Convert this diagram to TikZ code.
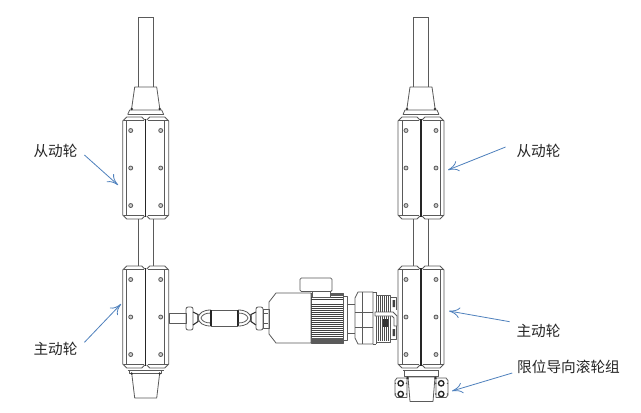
\documentclass[tikz,border=0pt]{standalone}
\usepackage{fontspec}
\setmainfont{Noto Sans CJK SC}
\usetikzlibrary{arrows.meta}
\definecolor{ink}{HTML}{5A5A5A}
\definecolor{callout}{HTML}{4F81BD}
\tikzset{
 x=0.75pt,y=-0.75pt,
 mech/.style={draw=ink,line width=0.6pt,line join=round},
 thin mech/.style={draw=ink,line width=0.35pt},
 heavy/.style={draw=black!85,line width=0.8pt},
 bolt/.style={draw=ink,fill=ink!30,line width=0.6pt},
 ring/.style={draw=black!85,fill=white,line width=1pt},
 lbl/.style={font=\fontsize{11}{13}\selectfont,text=black!85,inner sep=2pt},
 callarrow/.style={draw=callout,line width=0.6pt,-{To[length=8pt,width=8pt]}},
 roller/.pic={
  \draw[mech] (-1,3) -- (-4,0) -- (-19,0) -- (-23,4) -- (-23,98) -- (-19,102) -- (-4,102) -- (-1,99);
  \draw[mech] (1,3) -- (4,0) -- (19,0) -- (23,4) -- (23,98) -- (19,102) -- (4,102) -- (1,99);
  \draw[heavy] (0,2) -- (0,100);
  \draw[mech] (-19,3) -- (-19,99) (19,3) -- (19,99);
  \draw[thin mech] (-22,3.5) -- (-2,3.5) (2,3.5) -- (22,3.5) (-22,98.5) -- (-2,98.5) (2,98.5) -- (22,98.5);
  \foreach \bx in {-15,15} \foreach \by in {13.5,51,88.5}
   \draw[bolt] (\bx,\by) circle (2);
 },
 capup/.pic={
  \draw[mech] (-7.7,-100) -- (-7.7,-30) (7.7,-100) -- (7.7,-30);
  \draw[mech] (-7.7,-100) -- (7.7,-100);
  \draw[mech] (-11,-30) -- (11,-30) -- (14,-9) (-11,-30) -- (-14,-9);
  \draw[mech] (-18,-2.5) -- (-16,-7) -- (16,-7) -- (18,-2.5);
  \draw[thin mech] (-18,-3) -- (18,-3);
  \fill[black!80] (-14,-8) circle (1.4) (14,-8) circle (1.4);
 },
 capdown/.pic={
  \draw[mech] (-18,2) -- (18,2) (-16,2) -- (-16,5) -- (16,5) -- (16,2);
  \draw[mech] (-14,5) -- (-11,30) -- (11,30) -- (14,5);
  \fill[black!80] (-14,5.5) circle (1.3) (14,5.5) circle (1.3);
 }
}
\begin{document}
\begin{tikzpicture}
\useasboundingbox (0,0) rectangle (641,412);
\fill[white] (0,0) rectangle (641,412);
% left column
\pic at (145.7,117) {roller};
\pic at (145.7,266) {roller};
\pic at (145.7,117) {capup};
\pic at (145.7,368) {capdown};
\draw[mech] (138,219) -- (138,266) (153.4,219) -- (153.4,266);
% right column
\pic at (421,117) {roller};
\pic at (421,266) {roller};
\pic at (421,117) {capup};
\draw[mech] (403,370) -- (439,370) (404,370) -- (404,376) -- (438,376) -- (438,370);
\draw[mech] (413.3,219) -- (413.3,266) (428.8,219) -- (428.8,266);
% guide roller group
\draw[mech] (397,378) -- (407,378) -- (407,397.5) -- (397,397.5) -- (395,395) -- (395,380.5) -- cycle;
\draw[mech] (436,378) -- (446,378) -- (448,380.5) -- (448,395) -- (446,397.5) -- (436,397.5) -- cycle;
\draw[mech,fill=white] (408,377) -- (435,377) -- (433,401.5) -- (410,401.5) -- cycle;
\fill[black!80] (407.5,378) circle (1.3) (435.5,378) circle (1.3);
\foreach \gx in {400.7,441.2} \foreach \gy in {383.3,394}
 {\draw[ring] (\gx,\gy) circle (2.7);}
\foreach \gy in {383.3,394}
 {\fill[ink] (395.5,\gy) circle (0.8) (447.5,\gy) circle (0.8) (435.7,\gy) circle (0.9) (406.5,\gy) circle (0.9);}
% coupling
\draw[mech] (169,313) rectangle (186,323);
\draw[mech,rounded corners=1.5] (186,307) rectangle (193,330);
\draw[heavy] (193,312) -- (198,314.5) -- (198,321.5) -- (193,325);
\draw[mech] (211,310) .. controls (203,310) and (199,313) .. (198,318) .. controls (199,323) and (203,326) .. (211,326);
\draw[mech] (211,313) .. controls (205,313) and (202,315) .. (201,318) .. controls (202,321) and (205,323) .. (211,323);
\draw[mech] (211,310) -- (238,310) (211,326) -- (238,326);
\draw[heavy] (211,310) -- (211,326) (238,310) -- (238,326);
\draw[mech] (238,310) .. controls (246,310) and (250,313) .. (251,318) .. controls (250,323) and (246,326) .. (238,326);
\draw[mech] (238,313) .. controls (244,313) and (247,315) .. (248,318) .. controls (247,321) and (244,323) .. (238,323);
\draw[heavy] (256,312) -- (251,314.5) -- (251,321.5) -- (256,325);
\draw[mech,rounded corners=1.5] (256,307) rectangle (263,330);
\draw[mech] (263,309) rectangle (269,328);
\draw[mech] (264,313) -- (268,313) (264,323) -- (268,323);
% motor
\draw[mech] (269,302) -- (276,293) -- (311,293) -- (311,343) -- (276,343) -- (269,334) -- cycle;
\draw[mech] (311,293) rectangle (343,343);
\foreach \fy in {295,297,299,304,306,308,310,312,314,316,318,320,322,324,326,328,330,332,334,336,338,340}
 {\draw[draw=black!75,line width=0.6pt] (311,\fy) -- (343,\fy);}
\fill[ink] (311,338) rectangle (343,343);
\fill[ink] (311,293) rectangle (343,296);
\draw[mech,fill=white] (312,291) -- (312,297) -- (330,297) -- (330,291);
\draw[mech,fill=white,rounded corners=1] (300,278) rectangle (332,291.5);
\draw[mech] (343,296) -- (347,296) -- (347,340) -- (343,340);
\draw[mech] (347,304) -- (355,304) (347,333) -- (355,333);
\draw[mech] (358,292) -- (355,298) -- (355,338) -- (358,344) -- (373,344) -- (373,292) -- cycle;
\draw[mech] (362,292) -- (362,344);
\draw[mech] (355,312) -- (373,312) (355,327) -- (373,327);
\draw[mech] (376,292) -- (376,344) (373,292) -- (376,292) (373,344) -- (376,344);
\draw[mech] (376,295) -- (390,295) -- (390,342) -- (376,342);
\foreach \fx in {378,380,382,384,386,388}
 {\draw[draw=black!70,line width=0.5pt] (\fx,296) -- (\fx,341);}
\draw[mech,fill=white] (375,312) -- (393,312) -- (397,316) -- (397,326) -- (394,326) -- (394,318) -- (392,316) -- (375,316) -- cycle;
\fill[black!80] (383,319) rectangle (388,327);
\draw[mech] (390,297) -- (396,297) -- (396,310) (390,339) -- (396,339) -- (396,326);
\fill[black!75] (392.5,300) rectangle (395,307) (392.5,329) rectangle (395,336);
% labels
\node[lbl] (lA) at (55.5,151) {从动轮};
\node[lbl] (lB) at (55.5,349) {主动轮};
\node[lbl] (lC) at (538.5,151) {从动轮};
\node[lbl] (lD) at (538.5,331) {主动轮};
\node[lbl] (lE) at (568.5,367) {限位导向滚轮组};
\coordinate (tA) at (118,185);
\coordinate (tB) at (121,304);
\coordinate (tC) at (448,170);
\coordinate (tD) at (449,311);
\coordinate (tE) at (452,391);
\draw[callarrow] ([xshift=3pt,yshift=-3pt]lA.east) -- (tA);
\draw[callarrow] ([xshift=3pt,yshift=5pt]lB.east) -- (tB);
\draw[callarrow] ([xshift=-6pt,yshift=3pt]lC.west) -- (tC);
\draw[callarrow] ([xshift=-3pt,yshift=7pt]lD.west) -- (tD);
\draw[callarrow] ([xshift=-1.5pt,yshift=-4.5pt]lE.west) -- (tE);
\end{tikzpicture}
\end{document}
